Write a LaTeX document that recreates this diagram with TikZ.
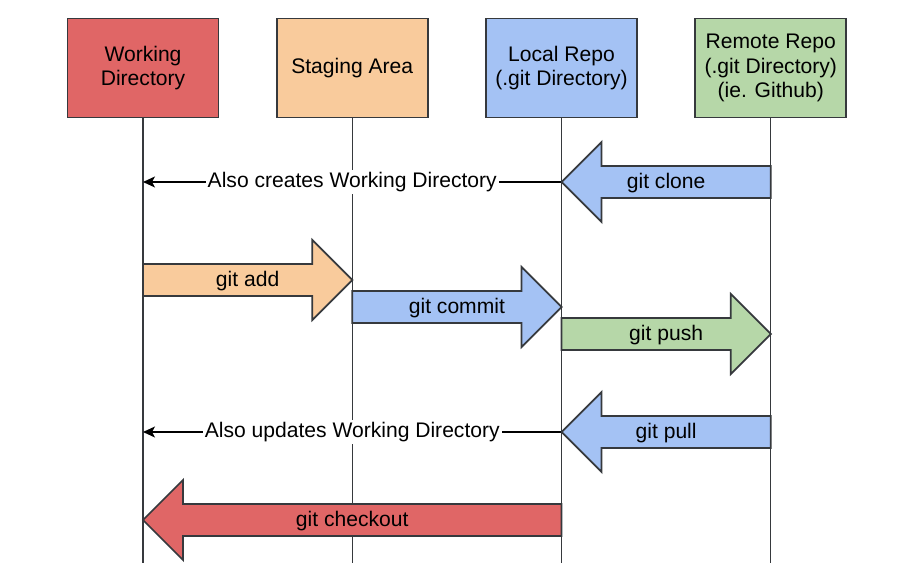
\documentclass[tikz,border=0pt]{standalone}
\usepackage{fontspec}
\setmainfont{Liberation Sans}
\usepackage{xcolor}
\usepackage{tikz}
\usetikzlibrary{arrows.meta, positioning, calc}
\definecolor{wdred}{HTML}{E06666}
\definecolor{saorange}{HTML}{F9CB9C}
\definecolor{lrblue}{HTML}{A4C2F4}
\definecolor{rrgreen}{HTML}{B6D7A8}
\definecolor{edge}{HTML}{36393D}
\tikzset{
    repo/.style    = {draw=edge, line width=1pt, minimum width=3.02cm, minimum height=1.98cm,
                      align=center, inner sep=2pt},
    life/.style    = {draw=edge, line width=0.8pt},
    blk/.style     = {draw=edge, line width=1pt, line join=miter},
    note/.style    = {fill=white, inner sep=1pt},
    thinarr/.style = {-{Stealth[length=2.4mm, width=2.2mm, inset=0.6mm]}, line width=0.7pt, black},
}
% block arrow: name, fill, from, to, row, text
\newcommand{\gitarrow}[6]{%
    \coordinate (#1-f) at (#3 |- #5);
    \coordinate (#1-t) at (#4 |- #5);
    \coordinate (#1-b) at ($(#1-t)!0.8cm!(#1-f)$);
    \draw[blk, fill=#2] ($(#1-f)+(0,0.32)$) -- ($(#1-b)+(0,0.32)$) -- ($(#1-b)+(0,0.8)$) -- (#1-t)
        -- ($(#1-b)+(0,-0.8)$) -- ($(#1-b)+(0,-0.32)$) -- ($(#1-f)+(0,-0.32)$) -- cycle;
    \node (#1) at ($(#1-f)!0.5!(#1-t)+(0,-0.03)$) {#6};
}

\begin{document}
\begin{tikzpicture}[font=\fontsize{12}{13.7}\selectfont]
    \useasboundingbox[fill=white] (0,0) rectangle (18.3,-11.7);

    % the four places
    \node[repo, fill=wdred] (wd) at (2.86,-1.36) {Working\\Directory};
    \node[repo, fill=saorange, right=1.13cm of wd] (sa) {Staging Area};
    \node[repo, fill=lrblue, right=1.13cm of sa] (lr) {Local Repo\\(.git Directory)};
    \node[repo, fill=rrgreen, right=1.13cm of lr] (rr) {Remote Repo\\(.git Directory)\\(ie. Github)};

    % rows
    \coordinate (bottom)   at (0,-11.26);
    \coordinate (clone)    at (0,-3.64);
    \coordinate (add)      at (0,-5.60);
    \coordinate (commit)   at (0,-6.14);
    \coordinate (push)     at (0,-6.68);
    \coordinate (pull)     at (0,-8.64);
    \coordinate (checkout) at (0,-10.40);

    % lifelines
    \draw[life] (wd) -- (wd |- bottom);
    \draw[life] (sa) -- (sa |- bottom);
    \draw[life] (lr) -- (lr |- bottom);
    \draw[life] (rr) -- (rr |- bottom);

    % side effects
    \draw[thinarr] (lr |- clone) -- node[note] (cloneNote) {Also creates Working Directory} (wd |- clone);
    \draw[thinarr] (lr |- pull) -- node[note] (pullNote) {Also updates Working Directory} (wd |- pull);

    % commands
    \gitarrow{gclone}{lrblue}{rr}{lr}{clone}{git clone}
    \gitarrow{gadd}{saorange}{wd}{sa}{add}{git add}
    \gitarrow{gcommit}{lrblue}{sa}{lr}{commit}{git commit}
    \gitarrow{gpush}{rrgreen}{lr}{rr}{push}{git push}
    \gitarrow{gpull}{lrblue}{rr}{lr}{pull}{git pull}
    \gitarrow{gcheckout}{wdred}{lr}{wd}{checkout}{git checkout}
\end{tikzpicture}
\end{document}
